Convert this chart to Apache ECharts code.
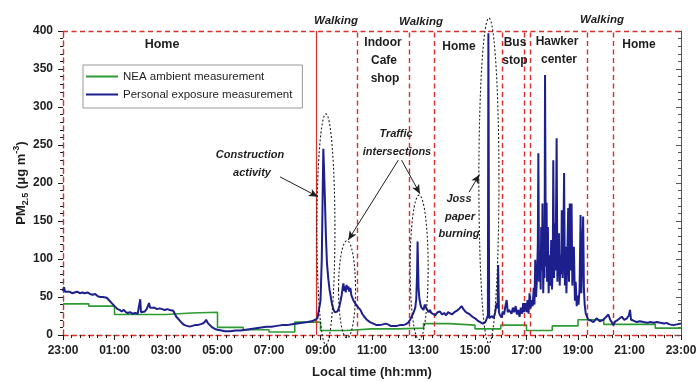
<!DOCTYPE html>
<html><head><meta charset="utf-8">
<script src="https://cdn.jsdelivr.net/npm/echarts@6/dist/echarts.min.js"></script>
<style>html,body{margin:0;padding:0;background:#fff}#c{width:700px;height:382px}</style>
</head><body><div id="c"></div>
<script>
// x values: hours elapsed since 23:00
const timeLabels = ['23:00','01:00','03:00','05:00','07:00','09:00','11:00','13:00','15:00','17:00','19:00','21:00','23:00'];
const neaHours = [0,1,2,3,4,5,6,7,8,9,10,11,12,13,14,15,16,17,18,19,20,21,22,23,24];
const neaPM = [41,38,27,27,29,30,10,7,4,17,6,8,8,9,15,13,8,13,6,12,20,14,14,9,9];

const homeNight = [[0.00,58],[0.04,63],[0.08,57],[0.15,56],[0.25,57],[0.35,55],[0.45,56],[0.55,57],[0.65,55],[0.75,56],[0.85,55],[0.95,56],[1.05,54],[1.15,53],[1.25,54],[1.35,51],[1.45,50],[1.55,50],[1.62,48],[1.7,49],[1.78,46],[1.85,44],[1.92,41],[2.0,38],[2.06,36],[2.12,34],[2.2,33],[2.28,31],[2.36,33],[2.44,30],[2.52,29],[2.6,30],[2.7,28],[2.8,29],[2.9,28],[2.97,29],[3.0,47],[3.03,30],[3.1,28],[3.18,31],[3.25,34],[3.3,36],[3.34,42],[3.38,36],[3.45,35],[3.55,36],[3.65,34],[3.75,35],[3.85,34],[3.95,33],[4.05,34],[4.15,33],[4.22,34],[4.28,32],[4.34,28],[4.4,24],[4.48,21],[4.56,18],[4.64,15],[4.72,13],[4.82,12],[4.92,11],[5.02,12],[5.12,13],[5.22,13],[5.32,14],[5.42,15],[5.5,17],[5.56,20],[5.62,16],[5.7,13],[5.8,10],[5.9,8],[6.0,7],[6.15,6],[6.3,5],[6.5,5],[6.7,6],[6.9,6],[7.1,7],[7.3,8],[7.5,9],[7.7,10],[7.9,11],[8.1,11],[8.3,12],[8.5,13],[8.7,13],[8.9,14],[9.1,15],[9.3,16],[9.5,17],[9.65,18],[9.8,20]];
const walkMorning = [[9.88,22],[9.95,24],[10.0,45],[10.05,100],[10.09,200],[10.11,245],[10.14,215],[10.17,180],[10.21,130],[10.25,95],[10.3,75],[10.35,60],[10.4,50],[10.45,40],[10.5,34],[10.55,30],[10.6,28],[10.66,31],[10.73,37],[10.78,45],[10.82,52],[10.86,62],[10.89,68],[10.92,58],[10.95,64],[10.98,56],[11.01,66],[11.04,60],[11.08,64],[11.12,57],[11.16,62],[11.2,52],[11.25,48],[11.3,44],[11.36,41],[11.42,38]];
const cafeShop = [[11.47,37],[11.55,33],[11.62,28],[11.7,24],[11.8,20],[11.92,17],[12.05,15],[12.18,13],[12.3,13],[12.42,14],[12.52,15],[12.57,17],[12.62,14],[12.72,12],[12.85,12],[12.96,12],[13.08,13],[13.2,13],[13.3,14],[13.4,16]];
const walkMidday = [[13.48,20],[13.55,25],[13.62,30],[13.68,36],[13.72,48],[13.75,80],[13.77,123],[13.79,90],[13.81,60],[13.84,48],[13.88,40],[13.92,36],[13.96,38],[14.0,33],[14.05,40],[14.1,36],[14.15,34],[14.2,30],[14.25,33],[14.3,29],[14.36,31]];
const homeAfternoon = [[14.45,26],[14.55,30],[14.64,31],[14.72,27],[14.8,29],[14.88,26],[14.95,30],[15.02,28],[15.1,27],[15.2,30],[15.3,32],[15.4,35],[15.48,38],[15.55,34],[15.62,31],[15.7,29],[15.8,27],[15.9,24],[16.0,22],[16.1,19],[16.2,17],[16.3,15],[16.4,17],[16.46,22],[16.5,26],[16.52,397],[16.55,22],[16.6,20],[16.66,25],[16.72,22],[16.78,29],[16.84,42],[16.88,35],[16.9,92],[16.93,30],[16.97,26],[17.03,23]];
const busStop = [[17.08,31],[17.13,27],[17.18,38],[17.23,46],[17.27,30],[17.32,33],[17.36,35],[17.42,28],[17.47,36],[17.52,30],[17.58,38],[17.63,27],[17.68,33],[17.73,24],[17.78,36],[17.83,28],[17.87,42],[17.9,30]];
const hawkerCenter = [[17.95,42],[18.0,30],[18.04,46],[18.08,28],[18.12,55],[18.16,35],[18.2,46],[18.24,38],[18.28,62],[18.31,40],[18.34,99],[18.37,50],[18.41,75],[18.44,120],[18.46,239],[18.49,70],[18.52,110],[18.55,60],[18.57,142],[18.6,85],[18.62,173],[18.65,55],[18.68,130],[18.7,75],[18.72,342],[18.75,90],[18.78,174],[18.8,70],[18.83,142],[18.86,55],[18.89,105],[18.92,65],[18.96,125],[18.99,60],[19.02,95],[19.04,230],[19.07,75],[19.1,147],[19.13,85],[19.17,259],[19.2,70],[19.23,115],[19.26,134],[19.29,65],[19.32,105],[19.35,80],[19.37,164],[19.4,75],[19.43,118],[19.46,213],[19.49,65],[19.52,116],[19.55,55],[19.58,95],[19.62,167],[19.65,70],[19.68,173],[19.71,85],[19.75,173],[19.78,65],[19.81,98],[19.84,116],[19.88,45],[19.91,70],[19.95,38],[19.98,52],[20.02,40],[20.06,60],[20.1,158],[20.13,55],[20.16,95],[20.2,156],[20.23,60],[20.26,40],[20.3,28],[20.34,28]];
const homeEvening = [[20.4,20],[20.5,19],[20.6,17],[20.72,22],[20.85,18],[20.98,20],[21.1,24],[21.18,27],[21.25,20],[21.31,17],[21.37,13],[21.45,18],[21.55,20],[21.7,24],[21.8,20],[21.9,22],[21.98,26],[22.02,33],[22.06,20],[22.15,19],[22.28,17],[22.4,18],[22.54,17],[22.7,16],[22.8,17],[22.95,16],[23.06,17],[23.2,16],[23.35,15],[23.44,16],[23.55,14],[23.7,13],[23.85,14],[24.0,15]];

const walkStart = 9.85;
const regionBounds = [11.43, 13.44, 14.4, 17.07, 17.9, 18.14, 20.36, 21.37];

const RED = '#d7302d', GREEN = '#2e9a33', BLUE = '#1c1f8c', INK = '#1e1e1e';
const FONT = 'Liberation Sans, Arial, sans-serif';

const personal = [].concat(homeNight, walkMorning, cafeShop, walkMidday, homeAfternoon, busStop, hawkerCenter, homeEvening);
const nea = neaHours.map((h, i) => [h, neaPM[i]]);

const chart = echarts.init(document.getElementById('c'), null, {renderer: 'canvas'});

const dashRed = {color: RED, type: [5, 3.5], width: 1.4};
const boundaryLines = [{xAxis: walkStart, lineStyle: {color: RED, type: 'solid', width: 1.2}}]
  .concat(regionBounds.map(b => ({xAxis: b, lineStyle: dashRed})))
  .concat([{yAxis: 400, lineStyle: dashRed}]);

const arrowStyle = {color: INK, width: 1, type: 'solid'};
const arrows = [
  [[8.43, 208], [9.9, 182]],
  [[13.02, 230], [11.08, 125]],
  [[13.15, 230], [13.86, 186]],
  [[15.77, 188], [16.17, 211]]
].map(a => [{coord: a[0], symbol: 'none', lineStyle: arrowStyle}, {coord: a[1], symbol: 'arrow', symbolSize: [6, 9]}]);

chart.setOption({
  animation: false,
  grid: {left: 63, right: 19, top: 31, bottom: 47, containLabel: false, outerBoundsMode: 'none'},
  legend: {
    orient: 'vertical', left: 83, top: 65, padding: [5, 10, 7, 3], itemGap: 5,
    icon: 'rect', itemWidth: 32, itemHeight: 2, borderColor: '#999', borderWidth: 1, backgroundColor: '#fff',
    textStyle: {fontSize: 11.5, color: INK, fontFamily: FONT, lineHeight: 13},
    data: ['NEA ambient measurement', 'Personal exposure measurement']
  },
  xAxis: {
    type: 'value', min: 0, max: 24, interval: 2,
    axisLine: {show: true, lineStyle: dashRed},
    axisTick: {show: true, length: 5, lineStyle: {color: INK}},
    minorTick: {show: true, splitNumber: 6, length: 3, lineStyle: {color: INK}},
    splitLine: {show: false},
    axisLabel: {formatter: v => timeLabels[Math.round(v / 2)], fontWeight: 'bold', fontSize: 12, color: INK, margin: 10, fontFamily: FONT},
    name: 'Local time (hh:mm)', nameLocation: 'middle', nameGap: 31, nameMoveOverlap: false,
    nameTextStyle: {fontWeight: 'bold', fontSize: 13, color: INK, fontFamily: FONT}
  },
  yAxis: [{
    type: 'value', min: 0, max: 400, interval: 50, position: 'left',
    axisLine: {show: true, lineStyle: dashRed},
    axisTick: {show: true, length: 5, lineStyle: {color: INK}},
    minorTick: {show: true, splitNumber: 5, length: 3, lineStyle: {color: INK}},
    splitLine: {show: false},
    axisLabel: {fontWeight: 'bold', fontSize: 12, color: INK, margin: 10, fontFamily: FONT},
    name: '{b|PM}{s|2.5}{b| (μg m}{p|-3}{b|)}', nameLocation: 'middle', nameGap: 33, nameMoveOverlap: false,
    nameTextStyle: {
      fontWeight: 'bold', fontSize: 13, color: INK, fontFamily: FONT,
      rich: {
        b: {fontWeight: 'bold', fontSize: 13, lineHeight: 18, color: INK, fontFamily: FONT},
        s: {fontWeight: 'bold', fontSize: 9, lineHeight: 9, verticalAlign: 'bottom', color: INK, fontFamily: FONT},
        p: {fontWeight: 'bold', fontSize: 9, lineHeight: 9, verticalAlign: 'top', color: INK, fontFamily: FONT}
      }
    }
  }, {
    type: 'value', min: 0, max: 400, interval: 50, position: 'right',
    axisLine: {show: true, lineStyle: {color: '#555', width: 1}},
    axisTick: {show: true, inside: true, length: 5, lineStyle: {color: '#555'}},
    minorTick: {show: true, splitNumber: 5, length: 3, lineStyle: {color: '#555'}},
    splitLine: {show: false},
    axisLabel: {show: false}
  }],
  series: [{
    name: 'NEA ambient measurement', type: 'line', step: 'end', data: nea,
    symbol: 'none', lineStyle: {color: GREEN, width: 1.6}, itemStyle: {color: GREEN}, z: 3,
    markLine: {silent: true, symbol: 'none', label: {show: false}, data: boundaryLines, z: 4}
  }, {
    name: 'Personal exposure measurement', type: 'line', data: personal,
    symbol: 'none', lineStyle: {color: BLUE, width: 2}, itemStyle: {color: BLUE}, z: 5,
    markLine: {silent: true, label: {show: false}, data: arrows, lineStyle: arrowStyle, symbolSize: [6, 9], z: 6}
  }]
});

// dotted ellipses around events, defined in data units and converted through the axes
const ellipses = [
  {h: 10.21, v: 139, rh: 0.35, rv: 152},
  {h: 11.03, v: 60, rh: 0.33, rv: 64},
  {h: 13.83, v: 89, rh: 0.35, rv: 95},
  {h: 16.54, v: 203, rh: 0.39, rv: 214}
];
const labels = [
  {t: 'Home', x: 162, y: 45, s: 12.5},
  {t: 'Walking', x: 336, y: 21, s: 11.5, i: true},
  {t: 'Indoor', x: 383, y: 43, s: 12}, {t: 'Cafe', x: 384, y: 61, s: 12}, {t: 'shop', x: 385, y: 79, s: 12},
  {t: 'Walking', x: 421, y: 22, s: 11.5, i: true},
  {t: 'Home', x: 459, y: 47, s: 12},
  {t: 'Bus', x: 515, y: 43, s: 12}, {t: 'stop', x: 515, y: 61, s: 12},
  {t: 'Hawker', x: 557, y: 42, s: 12}, {t: 'center', x: 559, y: 60, s: 12},
  {t: 'Walking', x: 602, y: 20, s: 11.5, i: true},
  {t: 'Home', x: 639, y: 45, s: 12},
  {t: 'Construction', x: 250, y: 155, s: 11, i: true}, {t: 'activity', x: 252, y: 173, s: 11, i: true},
  {t: 'Traffic', x: 396, y: 134, s: 11, i: true}, {t: 'intersections', x: 397, y: 152, s: 11, i: true},
  {t: 'Joss', x: 459, y: 199, s: 11, i: true}, {t: 'paper', x: 460, y: 217, s: 11, i: true}, {t: 'burning', x: 459, y: 234, s: 11, i: true}
];
const graphics = ellipses.map(e => {
  const c = chart.convertToPixel({gridIndex: 0}, [e.h, e.v]);
  const p = chart.convertToPixel({gridIndex: 0}, [e.h + e.rh, e.v + e.rv]);
  return {type: 'ellipse', silent: true, z: 20,
    shape: {cx: c[0], cy: c[1], rx: Math.abs(p[0] - c[0]), ry: Math.abs(c[1] - p[1])},
    style: {fill: 'none', stroke: INK, lineWidth: 1.1, lineDash: [2, 2]}};
}).concat(labels.map(l => ({
  type: 'text', silent: true, z: 30, x: l.x, y: l.y,
  style: {text: l.t, fill: INK, font: (l.i ? 'italic ' : '') + 'bold ' + l.s + 'px ' + FONT, textAlign: 'center', textVerticalAlign: 'middle'}
})));
chart.setOption({graphic: graphics});
</script></body></html>
